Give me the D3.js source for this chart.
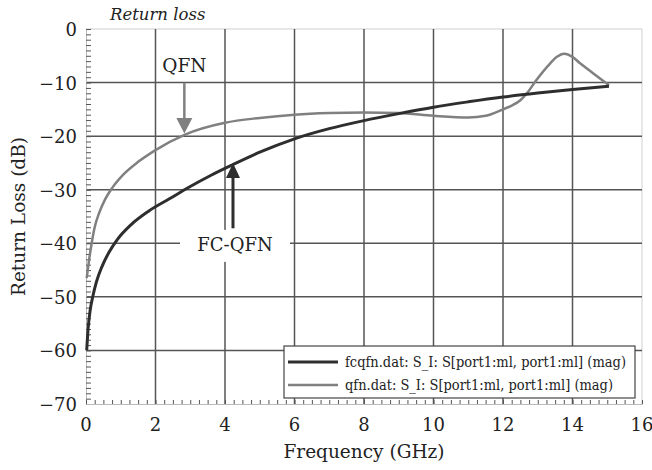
<!DOCTYPE html>
<html>
<head>
<meta charset="utf-8">
<script src="https://cdn.jsdelivr.net/npm/d3@7"></script>
<style>
  body { margin: 0; background: #fff; }
</style>
</head>
<body>
<div id="chart"></div>
<script>
// frequency (GHz) and return loss (dB)
const freqFC = [0.02, 0.06, 0.12, 0.2, 0.3, 0.45, 0.65, 0.9, 1.3, 1.8, 2.4, 3.0, 3.6, 4.2, 5, 6, 7, 8, 9, 10, 11, 12, 13, 14, 15.05];
const lossFC = [-60, -56, -52.5, -49.8, -47.2, -44.5, -41.8, -39.3, -36.5, -34, -31.7, -29.4, -27.3, -25.4, -23.0, -20.5, -18.6, -17.1, -15.8, -14.6, -13.6, -12.7, -11.95, -11.3, -10.7];

const freqQFN = [0.02, 0.08, 0.15, 0.25, 0.38, 0.55, 0.75, 1.1, 1.5, 2, 2.85, 4, 5, 6, 7, 8, 9, 10, 11, 11.5, 12, 12.25, 12.5, 12.7, 12.93, 13.36, 13.55, 13.76, 14.0, 14.2, 14.6, 15.05];
const lossQFN = [-46.5, -43.5, -40.5, -37, -34.3, -31.8, -29.7, -27, -24.8, -22.6, -19.7, -17.5, -16.6, -16.0, -15.7, -15.6, -15.7, -16.2, -16.5, -16.2, -15.0, -14.3, -13.3, -11.9, -9.8, -6.4, -5.2, -4.6, -5.2, -6.3, -8.3, -10.5];

const xTicks = [0, 2, 4, 6, 8, 10, 12, 14, 16];
const yTicks = [0, -10, -20, -30, -40, -50, -60, -70];
const legendNames = ["fcqfn.dat: S_I: S[port1:ml, port1:ml] (mag)", "qfn.dat: S_I: S[port1:ml, port1:ml] (mag)"];

const width = 652, height = 470;
const margin = { top: 29, right: 10, bottom: 66, left: 86 };
const plotW = width - margin.left - margin.right;
const plotH = height - margin.top - margin.bottom;

const darkCol = "#2e2e2e", grayCol = "#808080", gridCol = "#555";
const serif = "'DejaVu Serif', serif";

const svg = d3.select("#chart").append("svg")
    .attr("width", width)
    .attr("height", height)
    .attr("font-family", serif)
    .style("font-family", serif)
    .attr("fill", "#222");

const x = d3.scaleLinear().domain([0, 16]).range([margin.left, margin.left + plotW]);
const y = d3.scaleLinear().domain([-70, 0]).range([margin.top + plotH, margin.top]);

// frame (light) on top and right
svg.append("line").attr("x1", x(0)).attr("x2", x(16)).attr("y1", y(0)).attr("y2", y(0))
    .attr("stroke", "#cfcfcf").attr("stroke-width", 1.2);
svg.append("line").attr("x1", x(16)).attr("x2", x(16)).attr("y1", y(0)).attr("y2", y(-70))
    .attr("stroke", "#d8d8d8").attr("stroke-width", 1.2);

// grid
svg.append("g").selectAll("line")
    .data(xTicks.filter(d => d > 0 && d < 16))
    .join("line")
    .attr("x1", d => x(d)).attr("x2", d => x(d))
    .attr("y1", y(0)).attr("y2", y(-70))
    .attr("stroke", gridCol).attr("stroke-width", 1.5);
svg.append("g").selectAll("line")
    .data(yTicks.filter(d => d < 0 && d > -70))
    .join("line")
    .attr("x1", x(0)).attr("x2", x(16))
    .attr("y1", d => y(d)).attr("y2", d => y(d))
    .attr("stroke", gridCol).attr("stroke-width", 1.5);

// axes with minor ticks pointing inward
const yAxis = d3.axisRight(y).ticks(70).tickSize(5).tickFormat("");
svg.append("g").attr("transform", `translate(${x(0)},0)`).call(yAxis)
    .call(g => g.select(".domain").attr("stroke", "#bbb"))
    .call(g => g.selectAll(".tick line").attr("stroke", "#555"));
const xAxis = d3.axisTop(x).tickValues(d3.range(0, 16.01, 0.25)).tickSize(4).tickFormat("");
svg.append("g").attr("transform", `translate(0,${y(-70)})`).call(xAxis)
    .call(g => g.select(".domain").attr("stroke", "#bbb"))
    .call(g => g.selectAll(".tick line").attr("stroke", "#555"));

// tick labels
svg.append("g").selectAll("text")
    .data(yTicks)
    .join("text")
    .attr("x", x(0) - 9).attr("y", d => y(d) + 7)
    .attr("text-anchor", "end")
    .style("font-size", "18px")
    .text(d => d3.format("")(d).replace("-", "\u2212"));
svg.append("g").selectAll("text")
    .data(xTicks)
    .join("text")
    .attr("x", d => x(d)).attr("y", y(-70) + 27)
    .attr("text-anchor", "middle")
    .style("font-size", "18px")
    .text(d => d);

// axis titles
svg.append("text")
    .attr("x", x(8)).attr("y", 458)
    .attr("text-anchor", "middle")
    .style("font-size", "18.5px")
    .text("Frequency (GHz)");
svg.append("text")
    .attr("transform", `translate(25,${y(-35)}) rotate(-90)`)
    .attr("text-anchor", "middle")
    .style("font-size", "18.5px")
    .text("Return Loss (dB)");
svg.append("text")
    .attr("x", 110).attr("y", 20)
    .style("font-size", "16.5px").style("font-style", "italic")
    .text("Return loss");

// curves
const line = d3.line()
    .x(d => x(d[0]))
    .y(d => y(d[1]))
    .curve(d3.curveMonotoneX);

svg.append("path")
    .datum(d3.zip(freqQFN, lossQFN))
    .attr("d", line)
    .attr("fill", "none").attr("stroke", grayCol).attr("stroke-width", 2.5);
svg.append("path")
    .datum(d3.zip(freqFC, lossFC))
    .attr("d", line)
    .attr("fill", "none").attr("stroke", darkCol).attr("stroke-width", 3);

// annotation: QFN
svg.append("text")
    .attr("x", x(2.83)).attr("y", y(-8.1))
    .attr("text-anchor", "middle")
    .style("font-size", "18.5px")
    .text("QFN");
svg.append("line")
    .attr("x1", x(2.83)).attr("x2", x(2.83))
    .attr("y1", y(-10)).attr("y2", y(-16.8))
    .attr("stroke", grayCol).attr("stroke-width", 2.5);
svg.append("path")
    .attr("d", `M${x(2.83) - 8},${y(-16.6)} L${x(2.83) + 8},${y(-16.6)} L${x(2.83)},${y(-19.5)} Z`)
    .attr("fill", grayCol);

// annotation: FC-QFN (white box hides the grid behind it)
svg.append("rect")
    .attr("x", 180).attr("y", y(-37.5))
    .attr("width", 110).attr("height", 32)
    .attr("fill", "#fff");
svg.append("text")
    .attr("x", 235).attr("y", y(-41.4))
    .attr("text-anchor", "middle")
    .style("font-size", "18px")
    .text("FC-QFN");
svg.append("line")
    .attr("x1", x(4.23)).attr("x2", x(4.23))
    .attr("y1", y(-37.2)).attr("y2", y(-27.5))
    .attr("stroke", darkCol).attr("stroke-width", 3);
svg.append("path")
    .attr("d", `M${x(4.23) - 7},${y(-27.8)} L${x(4.23) + 7},${y(-27.8)} L${x(4.23)},${y(-25)} Z`)
    .attr("fill", darkCol);

// legend
const legend = svg.append("g");
legend.append("rect")
    .attr("x", 284).attr("y", 346)
    .attr("width", 351).attr("height", 52)
    .attr("fill", "#fff").attr("stroke", "#444").attr("stroke-width", 1.2);
const items = legend.selectAll("g.item")
    .data(legendNames)
    .join("g")
    .attr("class", "item")
    .attr("transform", (d, i) => `translate(288,${362 + i * 23})`);
items.append("line")
    .attr("x1", 0).attr("x2", 50)
    .attr("stroke", (d, i) => i === 0 ? darkCol : grayCol)
    .attr("stroke-width", (d, i) => i === 0 ? 3 : 2.5);
items.append("text")
    .attr("x", 57).attr("y", 5)
    .style("font-size", "14px")
    .attr("textLength", (d, i) => i === 0 ? 281 : 268)
    .attr("lengthAdjust", "spacingAndGlyphs")
    .text(d => d);
</script>
</body>
</html>
